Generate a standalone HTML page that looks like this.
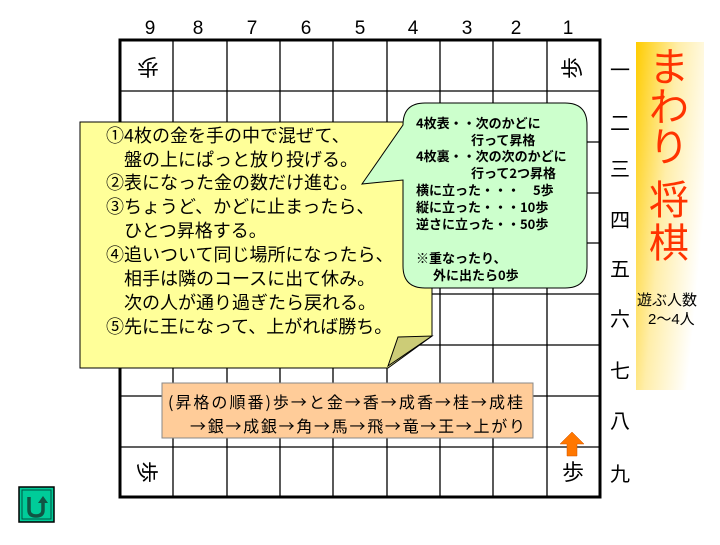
<!DOCTYPE html>
<html><head><meta charset="utf-8"><style>
body{margin:0;background:#fff;}
svg text{font-family:"Liberation Sans","Noto Sans CJK JP",sans-serif;}
svg text.j{font-family:"Noto Sans CJK JP",sans-serif;}
</style></head><body>
<svg width="720" height="540" xmlns="http://www.w3.org/2000/svg">
<rect width="720" height="540" fill="#fff"/>
<defs>
<linearGradient id="g" x1="0" y1="0" x2="1" y2="0.5">
<stop offset="0" stop-color="#ffcc00"/><stop offset="0.5" stop-color="#ffeeaa"/><stop offset="1" stop-color="#fff"/>
</linearGradient>
</defs>
<g stroke="#000" stroke-width="1.3">
<line x1="173" y1="40" x2="173" y2="497"/><line x1="227" y1="40" x2="227" y2="497"/>
<line x1="280" y1="40" x2="280" y2="497"/><line x1="333" y1="40" x2="333" y2="497"/>
<line x1="387" y1="40" x2="387" y2="497"/><line x1="440" y1="40" x2="440" y2="497"/>
<line x1="493" y1="40" x2="493" y2="497"/><line x1="547" y1="40" x2="547" y2="497"/>
<line x1="120" y1="91" x2="600" y2="91"/><line x1="120" y1="142" x2="600" y2="142"/>
<line x1="120" y1="193" x2="600" y2="193"/><line x1="120" y1="243" x2="600" y2="243"/>
<line x1="120" y1="294" x2="600" y2="294"/><line x1="120" y1="345" x2="600" y2="345"/>
<line x1="120" y1="396" x2="600" y2="396"/><line x1="120" y1="447" x2="600" y2="447"/>
</g>
<rect x="120" y="40" width="480" height="457" fill="none" stroke="#000" stroke-width="3"/>
<g font-size="19" text-anchor="middle">
<text x="150" y="34">9</text><text x="198" y="34">8</text><text x="252" y="34">7</text>
<text x="306" y="34">6</text><text x="360" y="34">5</text><text x="413" y="34">4</text>
<text x="467" y="34">3</text><text x="516" y="34">2</text><text x="568" y="34">1</text>
</g>
<g font-size="20" text-anchor="middle">
<text x="620" y="77">一</text><text x="620" y="130">二</text><text x="620" y="176">三</text>
<text x="620" y="227">四</text><text x="620" y="276">五</text><text x="620" y="326">六</text>
<text x="620" y="378">七</text><text x="620" y="428">八</text><text x="620" y="481">九</text>
</g>
<g font-size="22" text-anchor="middle">
<text transform="translate(148,67) rotate(180)" y="8">歩</text>
<text transform="translate(572,68) rotate(-90)" y="8">歩</text>
<text transform="translate(147,472) rotate(90)" y="8">歩</text>
<text x="573" y="480">歩</text>
</g>
<polygon points="572,432 584,444 577,444 577,456 567,456 567,444 560,444" fill="#ff7700" stroke="#cc5500" stroke-width="0.5"/>
<rect x="636" y="42" width="68" height="348" fill="url(#g)"/>
<g font-size="40" fill="#ff3300" text-anchor="middle">
<text x="669" y="81">ま</text><text x="669" y="121">わ</text><text x="669" y="161">り</text>
<text x="669" y="214">将</text><text x="669" y="257">棋</text>
</g>
<text x="637" y="305" font-size="15">遊ぶ人数</text>
<text x="648" y="324" font-size="15">2〜4人</text>
<polygon points="80,122 432,122 432,336 388,368 80,368" fill="#ffff99" stroke="#000" stroke-width="1"/>
<polygon points="398,337 432,336 388,366" fill="#cccc77" stroke="#000" stroke-width="1"/>
<g font-size="18" class="j">
<text class="j" x="106" y="142">①4枚の金を手の中で混ぜて、</text>
<text class="j" x="124" y="166">盤の上にぱっと放り投げる。</text>
<text class="j" x="106" y="189">②表になった金の数だけ進む。</text>
<text class="j" x="106" y="213">③ちょうど、かどに止まったら、</text>
<text class="j" x="124" y="237">ひとつ昇格する。</text>
<text class="j" x="106" y="261">④追いついて同じ場所になったら、</text>
<text class="j" x="124" y="285">相手は隣のコースに出て休み。</text>
<text class="j" x="124" y="309">次の人が通り過ぎたら戻れる。</text>
<text class="j" x="106" y="333">⑤先に王になって、上がれば勝ち。</text>
</g>
<path d="M425,103 H565 Q587,103 587,125 V266 Q587,288 565,288 H425 Q403,288 403,266 V180 L362,184 L403,125 Q403,103 425,103 Z" fill="#ccffcc" stroke="#000" stroke-width="1"/>
<g font-size="13" font-weight="bold">
<text class="j" x="416" y="128">4枚表・・次のかどに</text>
<text class="j" x="471" y="145">行って昇格</text>
<text class="j" x="416" y="161">4枚裏・・次の次のかどに</text>
<text class="j" x="471" y="178">行って2つ昇格</text>
<text class="j" x="416" y="195">横に立った・・・　5歩</text>
<text class="j" x="416" y="212">縦に立った・・・10歩</text>
<text class="j" x="416" y="229">逆さに立った・・50歩</text>
<text class="j" x="416" y="263">※重なったり、</text>
<text class="j" x="433" y="280">外に出たら0歩</text>
</g>
<rect x="162" y="383" width="371" height="55" fill="#ffcc99" stroke="#888" stroke-width="1"/>
<text class="j" x="168" y="408" font-size="16" textLength="355">(昇格の順番)歩→と金→香→成香→桂→成桂</text>
<text class="j" x="190" y="432" font-size="16" textLength="335">→銀→成銀→角→馬→飛→竜→王→上がり</text>
<rect x="19" y="487" width="35" height="35" fill="#00cc99" stroke="#000" stroke-width="1.5"/>
<rect x="22" y="490" width="29" height="29" fill="none" stroke="#005544" stroke-width="1"/>
<path d="M29,497 V510 Q29,516 36,516 Q43,516 43,510 V502" fill="none" stroke="#115544" stroke-width="3.5"/>
<polygon points="38,503 48,503 43,496" fill="#115544"/>
</svg>
</body></html>
